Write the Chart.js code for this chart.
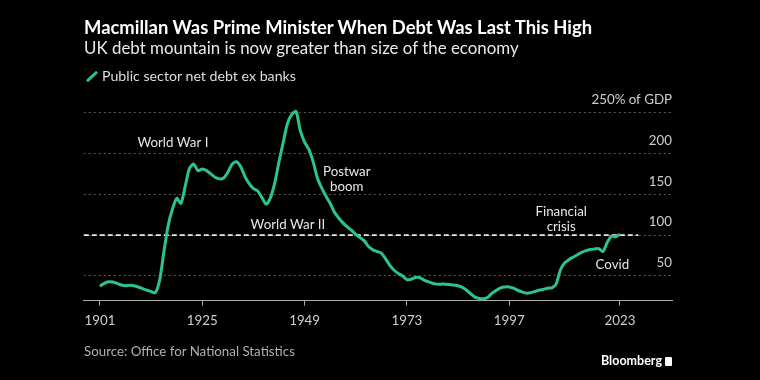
<!DOCTYPE html>
<html>
<head>
<meta charset="utf-8">
<script src="https://cdn.jsdelivr.net/npm/chart.js@4.4.1/dist/chart.umd.min.js"></script>
<style>
  html, body { margin: 0; padding: 0; background: #000; }
  #wrap { position: relative; width: 760px; height: 380px; overflow: hidden; font-family: Lato, sans-serif; }
  canvas { position: absolute; left: 0; top: 0; }
  .t { position: absolute; left: 84px; white-space: nowrap; }
  #title { top: 15.6px; font-size: 18.4px; line-height: 22px; font-weight: 700; color: #fff; }
  #sub { top: 38.2px; font-size: 16.9px; line-height: 20px; color: #e8e8e8; }
  #legend { top: 68.4px; font-size: 14.2px; line-height: 16px; color: #ddd; padding-left: 18px; }
  #legend i { position: absolute; left: 1px; top: 7px; width: 14px; height: 3px; background: #2bc48a; transform: rotate(-42deg); border-radius: 1px; }
  #source { top: 343px; font-size: 13.3px; line-height: 16px; color: #b0b0b0; }
  #logo { position: absolute; left: 601px; top: 352.5px; font-size: 12.5px; line-height: 16px; font-weight: 700; color: #fff; }
  #logo b { display: inline-block; width: 7px; height: 9px; margin-left: 3px; background: #fff; border-radius: 1px; vertical-align: -1px; }
</style>
</head>
<body>
<div id="wrap">
  <canvas id="chart" width="760" height="380"></canvas>
  <div class="t" id="title">Macmillan Was Prime Minister When Debt Was Last This High</div>
  <div class="t" id="sub">UK debt mountain is now greater than size of the economy</div>
  <div class="t" id="legend"><i></i>Public sector net debt ex banks</div>
  <div class="t" id="source">Source: Office for National Statistics</div>
  <div id="logo">Bloomberg<b></b></div>
</div>
<script>
// public sector net debt ex banks, % of GDP, 1901-2023
const firstYear = 1901;
const debt = [
  37.5, 41, 43, 42.5, 41, 39, 38, 38.5, 38, 36.5,
  34.5, 32.5, 31, 29.5, 45, 80, 112, 132, 145, 139,
  160, 182, 187, 179, 181, 179, 175, 171, 169, 170,
  177, 187, 190, 184, 172, 163, 157, 154, 146, 138,
  146, 164, 190, 214, 237, 248, 251.5, 228, 214, 205,
  190, 170, 158, 148, 139, 128, 121, 115, 110, 106,
  101, 97, 93, 86, 82, 80, 78, 71, 63, 57,
  53, 50, 45.5, 46, 48, 48, 45, 43, 41, 40,
  40, 40, 39.5, 39, 38, 36, 32.5, 28, 24, 22.5,
  22, 24, 29, 32.5, 35.5, 36.5, 36.5, 35, 32.5, 30.5,
  29, 29.5, 31, 32.5, 33.5, 35, 35.5, 40, 57, 66,
  70, 73, 76, 79, 81, 82.5, 83, 83.5, 80, 91,
  99, 98, 101
];
const years = debt.map((_, i) => firstYear + i);

const xTicks = [1901, 1925, 1949, 1973, 1997, 2023];
const yTicks = [50, 100, 150, 200, 250];

const refLevel = 100;      // dashed "bigger than the economy" line
const refEndYear = 2027.3;

const notes = [
  { lines: ['World War I'],            year: 1918.1, value: 213.7 },
  { lines: ['World War II'],           year: 1945.1, value: 113.3 },
  { lines: ['Postwar', 'boom'],        year: 1958.9, value: 177.7 },
  { lines: ['Financial', 'crisis'],    year: 2009.2, value: 128.7 },
  { lines: ['Covid'],                  year: 2021.2, value: 63.4 }
];

const green = '#2bc48a';

const overlay = {
  id: 'overlay',
  beforeDatasetsDraw(chart) {
    const { ctx, scales: { x, y } } = chart;
    const py = y.getPixelForValue(refLevel);
    ctx.save();
    ctx.strokeStyle = '#e8e8e8';
    ctx.lineWidth = 1.6;
    ctx.setLineDash([5, 3]);
    ctx.beginPath();
    ctx.moveTo(x.left, py);
    ctx.lineTo(x.getPixelForValue(refEndYear), py);
    ctx.stroke();
    ctx.restore();
  },
  afterDatasetsDraw(chart) {
    const { ctx, scales: { x, y } } = chart;
    ctx.save();
    ctx.fillStyle = '#e6e6e6';
    ctx.font = '13.3px Lato';
    ctx.textAlign = 'center';
    ctx.textBaseline = 'middle';
    notes.forEach(n => {
      const px = x.getPixelForValue(n.year);
      const py = y.getPixelForValue(n.value);
      n.lines.forEach((l, i) => ctx.fillText(l, px, py + i * 15));
    });
    ctx.restore();
  }
};

new Chart(document.getElementById('chart'), {
  type: 'line',
  data: {
    datasets: [{
      label: 'Public sector net debt ex banks',
      data: years.map((yr, i) => ({ x: yr, y: debt[i] })),
      borderColor: green,
      borderWidth: 3,
      pointRadius: 0,
      tension: 0.25,
      clip: false
    }]
  },
  options: {
    responsive: false,
    animation: false,
    events: [],
    layout: { padding: { left: 83.8, right: 88, top: 112.7, bottom: 0 } },
    plugins: { legend: { display: false }, tooltip: { enabled: false } },
    scales: {
      x: {
        type: 'linear',
        min: 1897.2,
        max: 2035.2,
        afterBuildTicks: s => { s.ticks = xTicks.map(v => ({ value: v })); },
        afterFit: s => { s.height = 79.3; },
        grid: { drawOnChartArea: false, drawTicks: true, tickLength: 5, color: '#aaa' },
        border: { display: true, color: '#aaa', width: 1 },
        ticks: { color: '#cfcfcf', font: { family: 'Lato', size: 13.3 }, padding: 7, maxRotation: 0, callback: v => String(v) }
      },
      y: {
        position: 'right',
        min: 19.7,
        max: 250,
        afterBuildTicks: s => { s.ticks = yTicks.map(v => ({ value: v })); },
        afterFit: s => { s.width = 0; },
        grid: { color: '#5a5a5a', drawTicks: false, lineWidth: 1 },
        border: { display: false, dash: [2, 3] },
        ticks: {
          mirror: true,
          padding: 0,
          labelOffset: -13,
          color: '#cfcfcf',
          font: { family: 'Lato', size: 13.3 },
          callback: v => v === 250 ? '250% of GDP' : String(v)
        }
      }
    }
  },
  plugins: [overlay]
});
</script>
</body>
</html>
